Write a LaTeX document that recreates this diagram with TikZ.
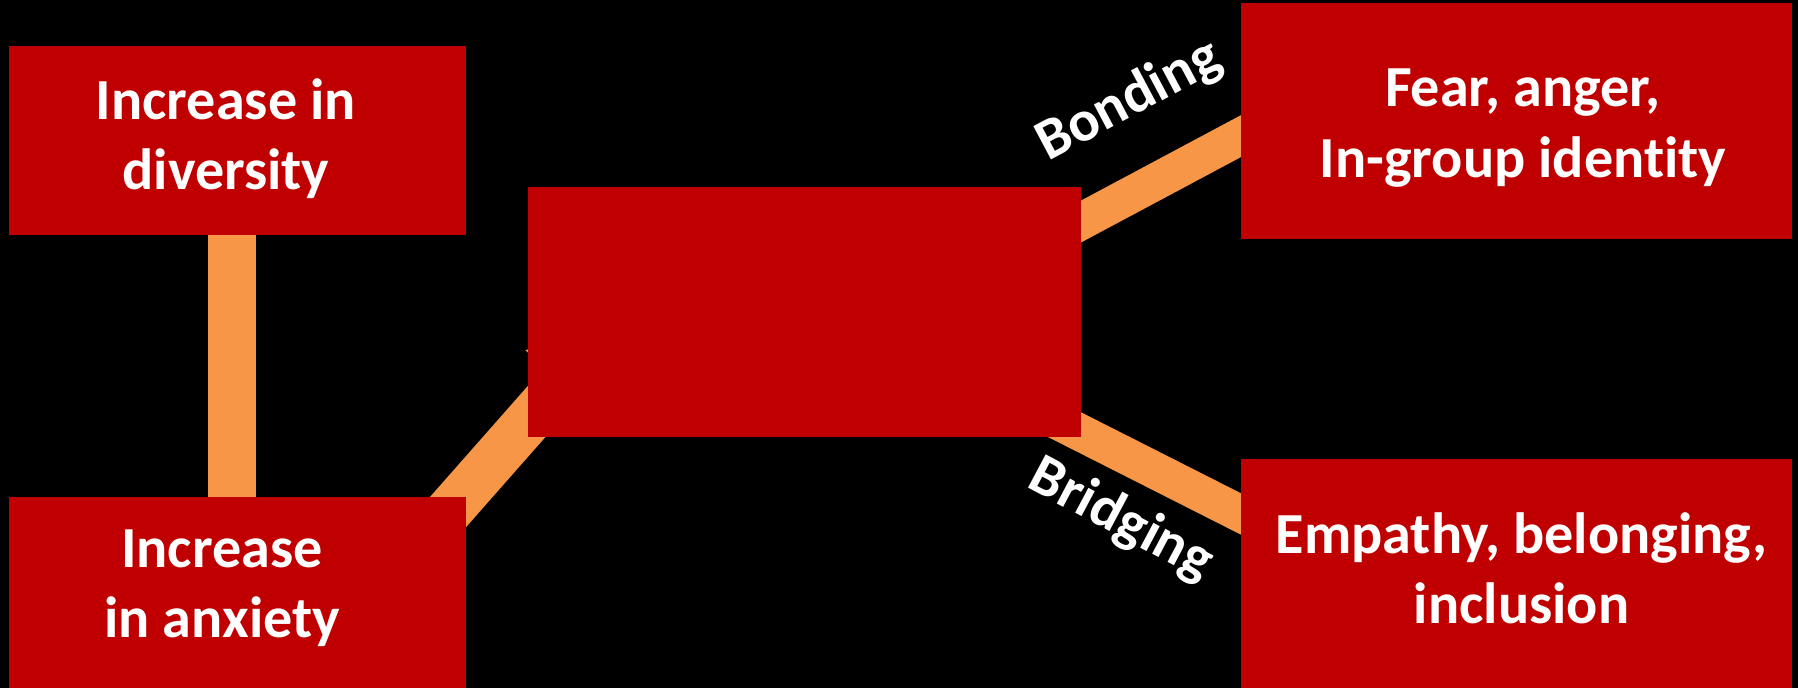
\documentclass[tikz,border=0pt]{standalone}
\usepackage{fontspec}
\setmainfont{Carlito}[Ligatures=NoCommon]
\usetikzlibrary{arrows.meta,calc,backgrounds}
\definecolor{boxred}{HTML}{C00000}
\definecolor{linkorange}{HTML}{F79646}
\tikzset{
  box/.style={rectangle, fill=boxred, inner sep=0pt},
  boxtext/.style={text=white, font=\fontsize{33.1}{40}\selectfont\bfseries, align=center, inner sep=0pt},
  link/.style={draw=linkorange},
  linklabel/.style={text=white, font=\fontsize{33.1}{40}\selectfont\bfseries, inner sep=0pt},
}
\begin{document}
\begin{tikzpicture}[x=0.02cm, y=-0.02cm]
  \useasboundingbox (0,0) rectangle (1798,688);
  % boxes
  \node[box, minimum width=9.14cm, minimum height=3.78cm] (diversity) at (237.5,140.5) {};
  \node[box, minimum width=9.14cm, minimum height=3.82cm] (anxiety) at (237.5,592.5) {};
  \node[box, minimum width=11.06cm, minimum height=5cm] (core) at (804.5,312) {};
  \node[box, minimum width=11.02cm, minimum height=4.72cm] (fear) at (1516.5,121) {};
  \node[box, minimum width=11.02cm, minimum height=4.58cm] (empathy) at (1516.5,573.5) {};
  % texts
  \node[boxtext] (diversity-txt) at ($(diversity.center)+(-11.5,-1.5)$) {Increase in\\diversity};
  \node[boxtext] (anxiety-txt) at ($(anxiety.center)+(-15.5,-4)$) {Increase\\in anxiety};
  \node[boxtext] (fear-txt) at ($(fear.center)+(6.5,7)$) {Fear, anger,\\In-group identity};
  \node[boxtext] (empathy-txt) at ($(empathy.center)+(5,-5)$) {Empathy, belonging,\\inclusion};
  \node[linklabel, rotate=28] (bonding) at (1129,101) {Bonding};
  \node[linklabel, rotate=-28] (bridging) at (1121,520) {Bridging};
  % links under the boxes
  \begin{scope}[on background layer]
    \fill[black] (0,0) rectangle (1798,688);
    \draw[link, line width=0.96cm] ($(diversity.center)+(-5.5,0)$) -- ($(anxiety.center)+(-5.5,0)$);
    \draw[link, line width=0.94cm, -{Triangle[width=1.84cm, length=1.6cm]}]
      ($(anxiety.center)+(144,-5)$) -- ($(core.center)+(-189.5,10.6)$);
    \draw[link, line width=0.74cm] ($(core.center)+(195.5,-47.2)$) -- ($(fear.center)+(-196.5,-27.1)$);
    \draw[link, line width=0.74cm] ($(core.center)+(195.5,80)$) -- ($(empathy.center)+(-196.5,-19.5)$);
  \end{scope}
\end{tikzpicture}
\end{document}
